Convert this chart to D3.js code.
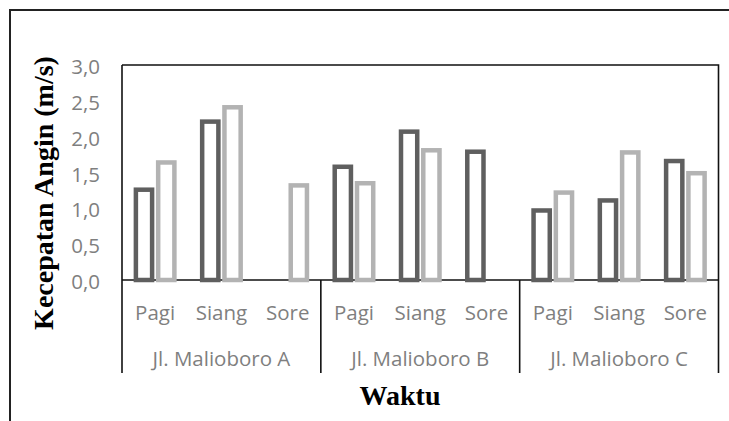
<!DOCTYPE html>
<html>
<head>
<meta charset="utf-8">
<script src="https://cdn.jsdelivr.net/npm/d3@7"></script>
<style>
html,body{margin:0;padding:0;background:#fff;}
svg{display:block;}
</style>
</head>
<body>
<svg id="chart" width="729" height="421"></svg>
<script>
// ---- data ----
const groups = ["Jl. Malioboro A", "Jl. Malioboro B", "Jl. Malioboro C"];
const times = ["Pagi", "Siang", "Sore"];
const seriesNames = ["Seri 1", "Seri 2"];
const series1 = [1.26, 2.21, null, 1.58, 2.07, 1.79, 0.97, 1.11, 1.66];
const series2 = [1.64, 2.41, 1.32, 1.35, 1.81, null, 1.22, 1.78, 1.49];
const yTicks = [0, 0.5, 1, 1.5, 2, 2.5, 3];
const yTitle = "Kecepatan Angin (m/s)";
const xTitle = "Waktu";

// ---- layout ----
const svg = d3.select("#chart");
const plot = {left: 122, right: 718.5, top: 65, bottom: 280};
const labelBottom = 373;
const colors = ["#5f5f5f", "#b3b3b3"];
const labelFont = "'Open Sans', sans-serif";
const labelSize = 20.5;

const categories = [];
groups.forEach((g, gi) => times.forEach((t, ti) => categories.push({id: gi + "-" + ti, group: g, time: t, gi})));

const x0 = d3.scaleBand().domain(categories.map(d => d.id)).range([plot.left, plot.right]).padding(0);
const xg = d3.scaleBand().domain(groups).range([plot.left, plot.right]).padding(0);
const y = d3.scaleLinear().domain([0, 3]).range([plot.bottom, plot.top]);
const bw = x0.bandwidth();
const clusterW = 43;
const x1 = d3.scaleBand().domain(seriesNames).range([(bw - clusterW) / 2, (bw + clusterW) / 2]).paddingInner(0.07);

// outer frame
svg.append("path")
  .attr("d", "M10,425 L10,10 L735,10")
  .attr("fill", "none").attr("stroke", "#222").attr("stroke-width", 2);

// plot border top/right
svg.append("path")
  .attr("d", `M${plot.left},${plot.top} L${plot.right},${plot.top} L${plot.right},${plot.bottom}`)
  .attr("fill", "none").attr("stroke", "#111").attr("stroke-width", 1.6);

// y axis (labels only)
const yAxis = d3.axisLeft(y).tickValues(yTicks).tickSize(0).tickPadding(0)
  .tickFormat(d => d3.format(".1f")(d).replace(".", ","));
const yg = svg.append("g").attr("transform", "translate(100,0)").call(yAxis);
yg.select(".domain").remove();
yg.selectAll("text").attr("fill", "#7f7f7f").attr("font-family", labelFont)
  .attr("font-size", labelSize).attr("dy", "0.42em");

// left axis line and baseline
svg.append("line").attr("x1", plot.left).attr("x2", plot.left).attr("y1", plot.top).attr("y2", labelBottom)
  .attr("stroke", "#111").attr("stroke-width", 1.6);
svg.append("line").attr("x1", plot.left).attr("x2", plot.right).attr("y1", plot.bottom).attr("y2", plot.bottom)
  .attr("stroke", "#111").attr("stroke-width", 1.6);

// group separators
groups.forEach(g => {
  const xr = xg(g) + xg.bandwidth();
  svg.append("line").attr("x1", xr).attr("x2", xr).attr("y1", plot.bottom).attr("y2", labelBottom)
    .attr("stroke", "#111").attr("stroke-width", 1.6);
});

// bars
const sw = 4.5;
[series1, series2].forEach((vals, si) => {
  svg.append("g").selectAll("rect")
    .data(categories.map((c, i) => ({c, v: vals[i]})).filter(d => d.v != null))
    .join("rect")
    .attr("x", d => x0(d.c.id) + x1(seriesNames[si]) + sw / 2)
    .attr("width", x1.bandwidth() - sw)
    .attr("y", d => y(d.v))
    .attr("height", d => y(0) - y(d.v))
    .attr("fill", "#fff")
    .attr("stroke", colors[si])
    .attr("stroke-width", sw);
});

// category labels
svg.append("g").selectAll("text").data(categories).join("text")
  .attr("x", d => x0(d.id) + bw / 2)
  .attr("y", 320)
  .attr("text-anchor", "middle")
  .attr("fill", "#7f7f7f").attr("font-family", labelFont).attr("font-size", labelSize)
  .text(d => d.time);

svg.append("g").selectAll("text").data(groups).join("text")
  .attr("x", d => xg(d) + xg.bandwidth() / 2)
  .attr("y", 366)
  .attr("text-anchor", "middle")
  .attr("fill", "#7f7f7f").attr("font-family", labelFont).attr("font-size", labelSize)
  .text(d => d);

// axis titles
svg.append("text")
  .attr("transform", "translate(53,193) rotate(-90)")
  .attr("text-anchor", "middle")
  .attr("font-family", "'Liberation Serif', 'Times New Roman', serif")
  .attr("font-weight", "bold").attr("font-size", 28).attr("fill", "#000")
  .text(yTitle);

svg.append("text")
  .attr("x", 400).attr("y", 405)
  .attr("text-anchor", "middle")
  .attr("font-family", "'Liberation Serif', 'Times New Roman', serif")
  .attr("font-weight", "bold").attr("font-size", 28).attr("fill", "#000")
  .text(xTitle);
</script>
</body>
</html>
